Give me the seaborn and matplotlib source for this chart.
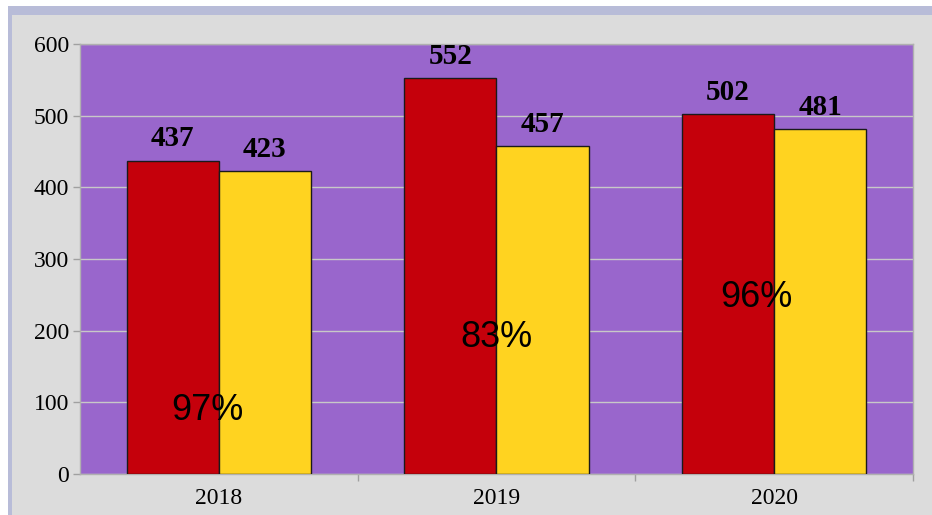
import matplotlib
matplotlib.use('Agg')
import matplotlib.pyplot as plt
import matplotlib.patches as mpatches
import seaborn as sns
import pandas as pd

# data
years = ['2018', '2019', '2020']
series = ['A', 'B']
values_a = [437, 552, 502]
values_b = [423, 457, 481]
pct_labels = ['97%', '83%', '96%']
pct_y = [89, 191, 246]
pct_dx = [-0.04, 0.0, -0.065]

df = pd.DataFrame({
    'year': years * 2,
    'series': [series[0]] * 3 + [series[1]] * 3,
    'value': values_a + values_b,
})

sns.set_style('white')
plt.rcParams['font.family'] = ['Liberation Serif', 'DejaVu Serif']

fig = plt.figure(figsize=(9.32, 5.15), dpi=100, facecolor='#dcdcdc')

# window-like border strips
W, H = 932, 515
fig.patches.append(mpatches.Rectangle((0, 1 - 6 / H), 1, 6 / H, transform=fig.transFigure,
                                      facecolor='white', edgecolor='none', zorder=0))
fig.patches.append(mpatches.Rectangle((0, 0), 8 / W, 1, transform=fig.transFigure,
                                      facecolor='white', edgecolor='none', zorder=0))
fig.patches.append(mpatches.Rectangle((8 / W, 1 - 15 / H), 1, 9 / H, transform=fig.transFigure,
                                      facecolor='#b8bcd8', edgecolor='none', zorder=0))
fig.patches.append(mpatches.Rectangle((8 / W, 0), 4 / W, 1 - 6 / H, transform=fig.transFigure,
                                      facecolor='#b8bcd8', edgecolor='none', zorder=0))

ax = fig.add_axes([80 / W, 1 - 474 / H, 833 / W, 430 / H])
ax.set_facecolor('#9966cc')

sns.barplot(data=df, x='year', y='value', hue='series', palette=['#c5000b', '#ffd320'],
            width=0.664, saturation=1, edgecolor='#1a1a1a', linewidth=1, ax=ax, zorder=3)
ax.legend_.remove()

for cont in ax.containers:
    ax.bar_label(cont, padding=6, fontsize=21, fontweight='bold', color='black')

for i, txt in enumerate(pct_labels):
    ax.text(i + pct_dx[i], pct_y[i], txt, ha='center', va='center', fontsize=26,
            family=['Liberation Sans', 'DejaVu Sans'], color='black', zorder=5)

ax.set_ylim(0, 600)
ax.set_xlim(-0.5, 2.5)
ax.set_yticks(range(0, 601, 100))
ax.yaxis.grid(True, color='#c8c8c8', linewidth=1)
ax.set_axisbelow(True)

ax.set_xticks(range(3))
ax.set_xticks([0.5, 1.5, 2.5], minor=True)
ax.tick_params(axis='x', which='minor', bottom=True, length=5, width=1, color='#a0a0a0', direction='out')
ax.tick_params(axis='x', which='major', bottom=True, length=0, pad=10, labelsize=17, labelcolor='black')
ax.tick_params(axis='y', left=True, length=5, width=1, color='#a0a0a0', direction='out', pad=3,
               labelsize=17, labelcolor='black')

for s in ax.spines.values():
    s.set_color('#b0b0b0')
    s.set_linewidth(1)

ax.set_xlabel('')
ax.set_ylabel('')

fig.savefig('out.png', dpi=100, facecolor=fig.get_facecolor())
